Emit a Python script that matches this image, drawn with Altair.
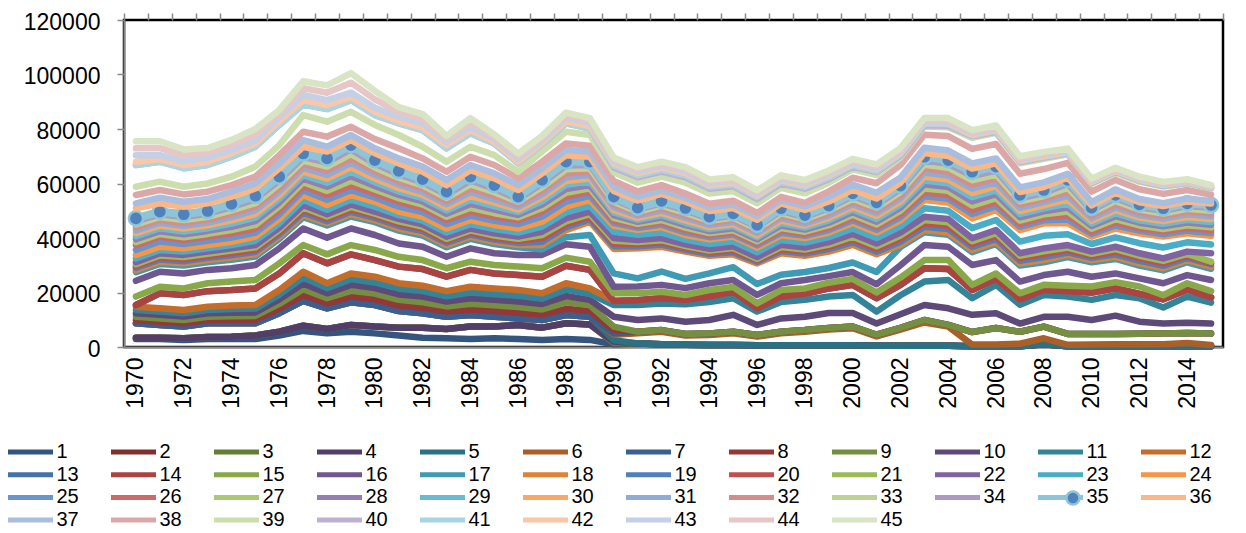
import altair as alt
import pandas as pd

YEARS = list(range(1970, 2016))
SERIES = [f"{i:02d}" for i in range(1, 46)]
COLORS = [
    "#34557F", "#7E302E", "#657E36", "#513F68", "#2C7083", "#A85F28",
    "#3A6091", "#933836", "#748F41", "#5E4A78", "#348499", "#C46C2A",
    "#4472AA", "#AB4341", "#88A84A", "#6F578F", "#3F9AB3", "#DF8136",
    "#4F81BD", "#C0504D", "#9BBB59", "#8064A2", "#4BACC6", "#F79646",
    "#6A94CB", "#CB6B68", "#ACC874", "#957EB4", "#68BCD2", "#F9A866",
    "#8FACD6", "#D38E8C", "#BDD396", "#AB9AC3", "#8DC4D7", "#FAB888",
    "#A9BEDE", "#DCA8A7", "#CCDDAE", "#BEB2D2", "#A9D5E3", "#FBC7A6",
    "#C4D0E6", "#E6C6C6", "#D8E4C4",
]

# values (thousands) of series 1..45 for each year
Y1970 = [2.9, 3.4,3.4,3.4, 8.7,8.7,8.7, 9.9,11.1,12.4,13.6, 14.8, 15.4,15.4, 18.5, 24.3, 27.5, 28.3, 29.0,29.7,30.4, 31.1, 32.5, 33.8, 35.6, 37.4, 38.5,39.6,40.7,41.8,42.8,43.9,45.0,46.1, 47.2, 50.9, 52.7, 55.8, 58.8, 66.8,66.8, 68.0, 70.4, 72.9, 75.5]
Y1971 = [2.9, 3.4,3.4,3.4, 8.1,8.1,8.1, 9.3,10.5,11.8,13.0, 14.2, 19.7,19.7, 22.1, 27.6, 30.5, 31.3, 32.1,32.9,33.6, 34.4, 35.6, 36.8, 38.7, 40.5, 41.5,42.5,43.6,44.6,45.6,46.6,47.7,48.7, 49.7, 52.7, 54.8, 57.6, 60.7, 68.0,68.0, 69.0, 70.4, 73.0, 75.5]
Y1972 = [2.6, 3.2,3.2,3.2, 7.5,7.5,7.5, 8.7,9.9,11.2,12.4, 13.6, 19.1,19.1, 21.5, 27.0, 29.9, 30.7, 31.5,32.2,33.0, 33.8, 35.0, 36.2, 37.8, 39.3, 40.3,41.4,42.4,43.5,44.5,45.6,46.6,47.7, 48.7, 51.5, 53.3, 56.0, 58.8, 65.6,65.6, 66.8, 68.2, 70.4, 72.5]
Y1973 = [2.9, 3.7,3.7,3.7, 8.7,8.7,8.7, 9.9,11.1,12.4,13.6, 14.8, 20.5,20.5, 23.4, 28.3, 31.1, 31.9, 32.7,33.5,34.2, 35.0, 36.2, 37.4, 39.0, 40.5, 41.5,42.6,43.6,44.7,45.7,46.8,47.8,48.9, 49.9, 52.7, 54.3, 57.0, 60.0, 66.8,66.8, 68.0, 69.5, 71.3, 73.0]
Y1974 = [2.9, 3.8,3.8,3.8, 8.7,8.7,8.7, 10.0,11.3,12.6,13.9, 15.2, 20.9,20.9, 24.0, 28.9, 32.0, 32.8, 33.7,34.5,35.4, 36.2, 37.4, 38.6, 40.2, 41.7, 42.9,44.1,45.3,46.5,47.7,48.9,50.1,51.3, 52.5, 55.2, 57.0, 59.4, 62.5, 69.8,69.8, 71.1, 72.3, 74.2, 76.0]
Y1975 = [2.9, 4.2,4.2,4.2, 8.7,8.7,8.7, 10.0,11.4,12.7,14.1, 15.4, 21.5,21.5, 24.6, 30.1, 33.2, 34.0, 34.9,35.7,36.6, 37.4, 39.0, 40.5, 42.0, 43.5, 44.8,46.2,47.5,48.8,50.2,51.5,52.8,54.2, 55.5, 58.2, 60.0, 62.5, 66.2, 73.5,73.5, 74.7, 75.9, 78.0, 80.0]
Y1976 = [4.2, 5.6,5.6,5.6, 12.4,12.4,12.4, 14.1,15.8,17.5,19.2, 20.9, 27.0,27.0, 30.7, 36.2, 39.7, 40.5, 41.3,42.2,43.0, 43.8, 45.4, 47.0, 48.7, 50.3, 51.7,53.0,54.4,55.7,57.1,58.4,59.8,61.1, 62.5, 65.6, 67.4, 70.4, 74.1, 81.5,81.5, 82.9, 84.5, 85.8, 87.0]
Y1977 = [5.9, 7.8,7.8,7.8, 16.9,16.9,16.9, 19.0,21.2,23.3,25.5, 27.6, 34.4,34.4, 37.4, 43.5, 47.6, 48.4, 49.3,50.3,51.2, 52.1, 54.0, 55.8, 57.5, 59.2, 60.5,61.8,63.1,64.4,65.8,67.1,68.4,69.7, 71.0, 73.5, 75.9, 79.0, 85.1, 89.0,89.0, 90.6, 92.5, 95.0, 97.5]
Y1978 = [5.0, 6.6,6.6,6.6, 14.2,14.2,14.2, 16.0,17.9,19.7,21.6, 23.4, 30.7,30.7, 34.0, 40.1, 44.6, 45.4, 46.2,47.1,47.9, 48.7, 50.4, 52.1, 54.0, 55.8, 57.3,58.8,60.3,61.8,63.2,64.7,66.2,67.7, 69.2, 71.7, 73.5, 77.2, 82.7, 87.3,87.3, 88.8, 90.6, 93.3, 96.0]
Y1979 = [5.6, 8.1,8.1,8.1, 16.4,16.4,16.4, 18.5,20.6,22.8,24.9, 27.0, 34.0,34.0, 37.4, 43.5, 47.9, 48.7, 49.6,50.5,51.4, 52.3, 54.1, 55.8, 57.6, 59.4, 61.0,62.7,64.3,65.9,67.6,69.2,70.8,72.5, 74.1, 75.9, 77.8, 80.8, 86.3, 90.6,90.6, 91.8, 93.4, 97.0, 100.5]
Y1980 = [5.0, 7.5,7.5,7.5, 15.4,15.4,15.4, 17.5,19.6,21.6,23.7, 25.8, 31.9,31.9, 35.6, 41.1, 45.8, 46.6, 47.4,48.2,48.9, 49.7, 51.5, 53.3, 54.9, 56.4, 57.8,59.1,60.5,61.8,63.2,64.5,65.9,67.2, 68.6, 71.1, 72.9, 76.3, 81.5, 85.1,85.1, 86.3, 87.8, 90.9, 94.0]
Y1981 = [4.2, 7.1,7.1,7.1, 13.2,13.2,13.2, 15.2,17.3,19.3,21.4, 23.4, 29.5,29.5, 33.1, 38.0, 42.7, 43.5, 44.4,45.3,46.1, 47.0, 48.4, 49.7, 51.5, 53.3, 54.6,55.8,57.1,58.3,59.6,60.8,62.1,63.3, 64.6, 67.4, 69.2, 72.9, 77.8, 82.1,82.1, 82.9, 84.5, 86.3, 88.0]
Y1982 = [3.4, 7.1,7.1,7.1, 12.4,12.4,12.4, 14.4,16.4,18.5,20.5, 22.5, 28.6,28.6, 31.9, 36.8, 40.9, 41.7, 42.5,43.4,44.2, 45.0, 46.4, 47.8, 49.5, 51.1, 52.3,53.4,54.6,55.8,56.9,58.1,59.3,60.4, 61.6, 64.3, 66.2, 69.2, 73.5, 79.6,79.6, 80.5, 82.1, 83.8, 85.5]
Y1983 = [3.2, 6.6,6.6,6.6, 11.1,11.1,11.1, 13.0,14.9,16.7,18.6, 20.5, 25.8,25.8, 28.9, 33.1, 36.6, 37.4, 38.2,39.0,39.7, 40.5, 42.0, 43.5, 45.1, 46.6, 47.8,48.9,50.1,51.2,52.4,53.5,54.7,55.8, 57.0, 59.4, 61.3, 64.3, 68.0, 72.9,72.9, 74.1, 75.3, 76.4, 77.5]
Y1984 = [2.9, 7.5,7.5,7.5, 11.7,11.7,11.7, 13.8,15.9,17.9,20.0, 22.1, 28.3,28.3, 31.3, 36.2, 39.7, 40.5, 41.3,42.0,42.8, 43.5, 45.1, 46.6, 48.2, 49.7, 51.1,52.5,54.0,55.4,56.8,58.2,59.7,61.1, 62.5, 64.9, 66.8, 69.8, 73.5, 78.4,78.4, 79.6, 80.8, 82.4, 84.0]
Y1985 = [3.2, 7.5,7.5,7.5, 11.1,11.1,11.1, 13.2,15.3,17.3,19.4, 21.5, 27.0,27.0, 30.1, 34.4, 37.8, 38.6, 39.4,40.2,40.9, 41.7, 43.3, 44.8, 46.3, 47.8, 49.1,50.4,51.7,53.0,54.2,55.5,56.8,58.1, 59.4, 61.9, 63.7, 66.8, 70.4, 74.7,74.7, 75.3, 76.3, 77.2, 78.0]
Y1986 = [2.9, 8.1,8.1,8.1, 10.5,10.5,10.5, 12.6,14.7,16.7,18.8, 20.9, 26.4,26.4, 29.5, 33.8, 36.6, 37.4, 38.2,39.0,39.7, 40.5, 42.0, 43.5, 45.1, 46.6, 47.6,48.5,49.5,50.4,51.4,52.3,53.3,54.2, 55.2, 57.6, 59.4, 61.9, 64.3, 67.4,67.4, 68.0, 69.0, 70.0, 71.0]
Y1987 = [2.6, 7.1,7.1,7.1, 9.9,9.9,9.9, 11.9,13.8,15.8,17.7, 19.7, 25.8,25.8, 28.9, 33.8, 35.8, 37.4, 38.6,39.9,41.1, 42.3, 44.2, 46.0, 47.9, 49.7, 51.0,52.3,53.6,54.9,56.1,57.4,58.7,60.0, 61.3, 63.7, 65.6, 68.0, 71.7, 74.4,74.4, 75.0, 75.9, 76.7, 77.5]
Y1988 = [2.9, 8.7,8.7,8.7, 11.7,11.7,11.7, 14.0,16.4,18.7,21.1, 23.4, 29.8,29.8, 32.8, 37.7, 40.3, 42.9, 44.0,45.1,46.1, 47.2, 49.4, 51.5, 53.4, 55.2, 56.6,58.0,59.5,60.9,62.3,63.7,65.2,66.6, 68.0, 70.4, 72.3, 74.7, 79.0, 82.1,82.1, 82.9, 84.1, 85.1, 86.0]
Y1989 = [2.6, 8.3,8.3,8.3, 11.1,11.1,11.1, 13.2,15.3,17.3,19.4, 21.5, 28.3,28.3, 31.3, 36.8, 41.1, 46.0, 46.9,47.9,48.8, 49.7, 51.8, 53.9, 55.5, 57.0, 58.2,59.4,60.7,61.9,63.1,64.3,65.6,66.8, 68.0, 69.8, 71.7, 73.9, 77.8, 80.2,80.2, 81.1, 82.4, 83.2, 84.0]
Y1990 = [1.0, 1.5,1.5,2.0, 2.5, 4.5, 5.0, 6.2, 7.5, 11.1, 15.4, 16.9,16.9,16.9, 19.7, 22.1, 27.0, 36.0, 37.0,38.0,39.0, 40.0, 42.3, 44.5, 45.5,46.4,47.4,48.4,49.4,50.3,51.3,52.3,53.3,54.2, 55.2, 57.3, 58.8, 60.9, 64.1, 65.9, 66.6, 67.4, 68.1, 68.8, 69.5]
Y1991 = [1.3,1.3,1.3,1.3,1.3, 5.0, 5.6,5.6,5.6, 9.9, 15.4, 17.2,17.2,17.2, 19.7, 22.2, 25.2, 36.2, 37.0,37.8,38.5, 39.3, 41.2, 43.0, 43.7,44.5,45.2,45.9,46.7,47.4,48.2,48.9,49.6,50.4, 51.1, 53.8, 55.1, 57.1, 60.3, 62.3, 63.0, 63.8, 64.5, 65.3, 66.0]
Y1992 = [1.0,1.0,1.0,1.0,1.0, 5.6, 6.2,6.2,6.2, 10.5, 16.0, 17.9,17.9,17.9, 20.3, 22.8, 27.7, 36.8, 37.6,38.4,39.2, 40.0, 42.0, 44.0, 44.9,45.7,46.6,47.5,48.4,49.2,50.1,51.0,51.9,52.7, 53.6, 56.2, 57.5, 59.4, 62.5, 64.4, 65.1, 65.8, 66.6, 67.3, 68.0]
Y1993 = [0.8,0.8,0.8,0.8,0.8, 4.2, 4.8,4.8,4.8, 9.3, 15.7, 17.3,17.3,17.3, 19.1, 21.6, 25.0, 35.0, 35.7,36.4,37.0, 37.7, 39.4, 41.1, 42.0,42.9,43.8,44.7,45.6,46.5,47.4,48.3,49.2,50.1, 51.0, 53.3, 54.8, 56.3, 60.3, 62.3, 63.0, 63.8, 64.5, 65.3, 66.0]
Y1994 = [0.7,0.7,0.7,0.7,0.7, 4.4, 5.0,5.0,5.0, 9.9, 16.5, 18.5,18.5,18.5, 20.9, 23.4, 27.0, 33.5, 34.1,34.8,35.4, 36.0, 37.8, 39.5, 40.3,41.0,41.8,42.5,43.3,44.0,44.8,45.5,46.3,47.0, 47.8, 49.9, 51.2, 52.6, 56.3, 58.1, 58.8, 59.4, 60.1, 60.8, 61.5]
Y1995 = [0.7,0.7,0.7,0.7,0.7, 5.0, 5.6,5.6,5.6, 11.8, 17.9, 20.3,20.3,20.3, 22.0, 24.6, 29.3, 34.0, 34.8,35.5,36.3, 37.0, 38.8, 40.5, 41.3,42.0,42.8,43.6,44.4,45.1,45.9,46.7,47.5,48.2, 49.0, 51.0, 52.3, 53.7, 57.2, 59.0, 59.6, 60.3, 61.0, 61.6, 62.3]
Y1996 = [0.6,0.6,0.6,0.6,0.6, 3.8, 4.4,4.4,4.4, 8.1, 13.0, 14.2,14.2,14.2, 16.0, 19.1, 23.1, 30.7, 31.3,31.9,32.4, 33.0, 34.8, 36.5, 37.3,38.0,38.8,39.5,40.3,41.0,41.8,42.5,43.3,44.0, 44.8, 46.7, 48.0, 49.2, 52.7, 54.3, 55.0, 55.6, 56.2, 56.9, 57.5]
Y1997 = [0.6,0.6,0.6,0.6,0.6, 5.0, 5.6,5.6,5.6, 10.5, 16.5, 18.5,18.5,18.5, 20.9, 23.4, 26.5, 34.4, 35.2,35.9,36.7, 37.5, 39.3, 41.0, 41.9,42.8,43.7,44.6,45.5,46.4,47.3,48.2,49.1,50.0, 50.9, 52.7, 53.9, 55.1, 58.4, 60.0, 60.6, 61.2, 61.8, 62.4, 63.0]
Y1998 = [0.6,0.6,0.6,0.6,0.6, 5.6, 6.2,6.2,6.2, 11.1, 17.3, 19.5,19.5,19.5, 21.5, 24.6, 27.5, 33.5, 34.3,35.0,35.8, 36.5, 38.3, 40.0, 40.8,41.5,42.3,43.1,43.8,44.6,45.3,46.1,46.9,47.6, 48.4, 50.3, 51.6, 52.9, 56.4, 58.1, 58.7, 59.4, 60.0, 60.7, 61.3]
Y1999 = [0.6,0.6,0.6,0.6,0.6, 6.4, 7.0,7.0,7.0, 12.5, 18.5, 21.5,21.5,21.5, 23.6, 26.0, 29.0, 35.0, 35.9,36.8,37.6, 38.5, 40.3, 42.0, 42.9,43.8,44.7,45.6,46.5,47.4,48.3,49.2,50.1,51.0, 51.9, 53.4, 55.1, 57.1, 60.3, 61.6, 62.2, 62.9, 63.5, 64.2, 64.8]
Y2000 = [0.6,0.6,0.6,0.6,0.6, 6.9, 7.5,7.5,7.5, 12.5, 19.1, 22.8,22.8,22.8, 25.0, 27.5, 31.0, 37.5, 38.5,39.5,40.5, 41.5, 43.5, 45.5, 46.5,47.5,48.5,49.5,50.5,51.4,52.4,53.4,54.4,55.4, 56.4, 57.7, 59.6, 62.1, 65.2, 66.2, 66.7, 67.2, 67.7, 68.4, 69.0]
Y2001 = [0.5,0.5,0.5,0.5,0.5, 3.9, 4.5,4.5,4.5, 8.6, 13.0, 17.9,17.9,17.9, 20.0, 23.0, 27.5, 34.0, 35.0,36.0,37.0, 38.0, 40.0, 42.0, 43.0,44.0,45.0,46.0,47.0,48.1,49.1,50.1,51.1,52.1, 53.1, 54.5, 56.6, 60.1, 63.1, 64.2, 64.6, 65.2, 65.6, 66.3, 67.0]
Y2002 = [0.5,0.5,0.5,0.5,0.5, 6.4, 7.0,7.0,7.0, 12.0, 19.0, 22.8,22.8,22.8, 25.5, 30.0, 36.7, 37.5, 38.6,39.8,40.9, 42.0, 44.3, 46.5, 47.7,48.8,50.0,51.1,52.3,53.4,54.6,55.7,56.9,58.0, 59.2, 60.3, 62.2, 66.8, 69.6, 70.2, 70.7, 71.2, 71.6, 72.3, 73.0]
Y2003 = [0.5,0.5,0.5,0.5,0.5, 9.0, 9.9,9.9,9.9, 15.4, 24.0, 28.9,28.9,28.9, 31.9, 37.4, 42.1, 42.9, 44.1,45.4,46.6, 47.8, 50.9, 53.9, 55.3,56.8,58.2,59.7,61.1,62.6,64.0,65.5,66.9,68.4, 69.8, 71.2, 73.1, 77.9, 80.9, 81.4, 81.9, 82.3, 82.7, 83.3, 84.0]
Y2004 = [0.5,0.5,0.5,0.5,0.5, 7.5, 8.1,8.1,8.1, 14.2, 24.6, 28.6,28.6,28.6, 31.9, 36.8, 41.2, 42.0, 43.3,44.5,45.8, 47.0, 50.0, 53.0, 54.4,55.8,57.3,58.7,60.1,61.5,62.9,64.3,65.8,67.2, 68.6, 70.1, 72.1, 77.4, 80.6, 81.2, 81.7, 82.2, 82.6, 83.2, 84.0]
Y2005 = [0.3,0.3,0.3,0.3,0.3, 0.9, 5.5,5.5,5.5, 11.8, 17.9, 20.9,20.9,20.9, 22.8, 30.1, 34.8, 35.6, 36.7,37.8,38.8, 39.9, 43.6, 47.2, 48.8,50.3,51.9,53.4,55.0,56.5,58.1,59.6,61.2,62.7, 64.3, 65.5, 67.4, 72.7, 76.8, 77.3, 77.6, 77.9, 78.4, 79.0, 79.6]
Y2006 = [0.3,0.3,0.3,0.3,0.3, 0.9, 7.0,7.0,7.0, 12.4, 22.8, 25.1,25.1,25.1, 27.0, 31.9, 37.8, 38.6, 39.7,40.8,41.8, 42.9, 46.6, 50.3, 51.7,53.2,54.6,56.1,57.5,59.0,60.4,61.9,63.3,64.7, 66.2, 67.4, 69.2, 74.5, 78.6, 79.0, 79.3, 79.6, 80.1, 80.7, 81.3]
Y2007 = [0.3,0.3,0.3,0.3,0.3, 1.2, 5.6,5.6,5.6, 8.6, 15.5, 17.5,17.5,17.5, 19.7, 24.0, 29.9, 30.7, 31.6,32.6,33.5, 34.4, 38.7, 42.9, 44.1,45.2,46.4,47.6,48.8,49.9,51.1,52.3,53.5,54.6, 55.8, 56.9, 58.6, 63.6, 67.4, 67.9, 68.2, 68.4, 68.9, 69.4, 70.0]
Y2008 = [1.0,1.0,1.0,1.0,1.0, 3.2, 7.5,7.5,7.5, 11.1, 19.1, 20.9,20.9,20.9, 22.8, 26.4, 31.1, 31.9, 33.0,34.1,35.1, 36.2, 40.8, 45.4, 46.5,47.6,48.7,49.8,50.9,52.0,53.2,54.3,55.4,56.5, 57.6, 58.7, 60.4, 65.3, 69.1, 69.5, 69.8, 70.1, 70.5, 71.0, 71.6]
Y2009 = [0.3,0.3,0.3,0.3,0.3, 0.8, 4.8,4.8,4.8, 11.1, 18.5, 20.5,20.5,20.5, 22.5, 27.6, 33.0, 33.8, 34.7,35.6,36.5, 37.4, 41.4, 45.4, 46.8,48.3,49.7,51.2,52.6,54.1,55.5,57.0,58.4,59.9, 61.3, 62.2, 63.6, 67.6, 70.7, 71.1, 71.3, 71.5, 71.9, 72.3, 72.8]
Y2010 = [0.3,0.3,0.3,0.3,0.3, 0.9, 4.8,4.8,4.8, 9.9, 17.3, 20.0,20.0,20.0, 22.2, 25.8, 31.1, 31.9, 32.7,33.5,34.2, 35.0, 37.8, 40.5, 41.5,42.4,43.4,44.4,45.3,46.3,47.2,48.2,49.2,50.1, 51.1, 52.0, 53.2, 57.0, 59.9, 60.2, 60.4, 60.6, 60.9, 61.4, 61.8]
Y2011 = [0.3,0.3,0.3,0.3,0.3, 1.0, 4.8,4.8,4.8, 11.5, 19.1, 21.5,21.5,21.5, 23.8, 27.0, 32.3, 33.1, 34.0,35.0,35.9, 36.8, 40.2, 43.5, 44.6,45.7,46.9,48.0,49.1,50.2,51.3,52.4,53.6,54.7, 55.8, 56.6, 57.8, 61.3, 64.0, 64.3, 64.5, 64.7, 65.0, 65.4, 65.8]
Y2012 = [0.3,0.3,0.3,0.3,0.3, 1.0, 4.9,4.9,4.9, 9.3, 17.9, 19.5,19.5,19.5, 22.2, 25.2, 29.9, 30.7, 31.6,32.6,33.5, 34.4, 38.1, 41.7, 42.7,43.6,44.6,45.6,46.5,47.5,48.4,49.4,50.4,51.3, 52.3, 53.1, 54.3, 57.9, 60.7, 61.0, 61.2, 61.4, 61.7, 62.1, 62.5]
Y2013 = [0.3,0.3,0.3,0.3,0.3, 1.0, 5.0,5.0,5.0, 8.6, 14.5, 17.5,17.5,17.5, 19.0, 23.4, 28.1, 28.9, 29.8,30.7,31.6, 32.5, 36.5, 40.5, 41.4,42.4,43.3,44.3,45.2,46.2,47.1,48.1,49.0,50.0, 50.9, 51.7, 52.8, 56.2, 58.9, 59.1, 59.3, 59.5, 59.8, 60.2, 60.6]
Y2014 = [0.3,0.3,0.3,0.3,0.3, 1.5, 5.1,5.1,5.1, 8.9, 18.5, 21.0,21.0,21.0, 23.4, 26.4, 31.1, 31.9, 32.7,33.5,34.2, 35.0, 38.4, 41.7, 42.7,43.7,44.7,45.7,46.7,47.7,48.7,49.7,50.7,51.7, 52.7, 53.4, 54.5, 57.6, 60.0, 60.3, 60.4, 60.6, 60.9, 61.2, 61.6]
Y2015 = [0.3,0.3,0.3,0.3,0.3, 0.7, 5.0,5.0,5.0, 8.6, 16.3, 18.2,18.2,18.2, 20.5, 24.6, 28.7, 29.5, 30.3,30.7,31.3, 34.4, 37.6, 40.8, 41.8,42.9,43.9,44.9,45.9,47.0,48.0,49.0,50.0,51.1, 52.1, 52.7, 53.6, 55.9, 58.1, 58.3, 58.5, 58.6, 58.8, 59.1, 59.4]

COLUMNS = [Y1970, Y1971, Y1972, Y1973, Y1974, Y1975, Y1976, Y1977, Y1978, Y1979,
           Y1980, Y1981, Y1982, Y1983, Y1984, Y1985, Y1986, Y1987, Y1988, Y1989,
           Y1990, Y1991, Y1992, Y1993, Y1994, Y1995, Y1996, Y1997, Y1998, Y1999,
           Y2000, Y2001, Y2002, Y2003, Y2004, Y2005, Y2006, Y2007, Y2008, Y2009,
           Y2010, Y2011, Y2012, Y2013, Y2014, Y2015]

LABEL_YEARS = list(range(1970, 2015, 2))
BOUNDARIES = [y + 0.5 for y in range(1969, 2016)]

rows = []
for year, col in zip(YEARS, COLUMNS):
    assert len(col) == 45, year
    for name, v in zip(SERIES, col):
        rows.append({"year": year, "series": name, "value": v * 1000})
df = pd.DataFrame(rows).sort_values(["series", "year"]).reset_index(drop=True)

FONT = "Liberation Sans"
GRAY = "#898989"

xaxis_labels = alt.Axis(
    values=LABEL_YEARS, format="d", title=None, grid=False, ticks=False,
    labelAngle=-90, labelOverlap=False, labelFlush=False,
    labelFont=FONT, labelFontSize=23, labelColor="black", labelPadding=10,
    domainColor=GRAY, domainWidth=2,
)
xaxis_ticks = alt.Axis(
    values=BOUNDARIES, title=None, grid=False, labels=False, domain=False,
    tickSize=7, tickWidth=1.5, tickColor=GRAY,
)
yaxis = alt.Axis(
    values=[0, 20000, 40000, 60000, 80000, 100000, 120000], format="d",
    title=None, grid=False, labelFont=FONT, labelFontSize=23, labelColor="black",
    labelPadding=17, labelOffset=2, tickSize=7, tickWidth=1.5, tickColor=GRAY,
    domainColor=GRAY, domainWidth=2,
)

xs = alt.Scale(domain=[1969.5, 2015.5], nice=False, zero=False)
ys = alt.Scale(domain=[0, 120000], nice=False)

legend = alt.Legend(
    orient="none", legendX=-121, legendY=422, columns=12, direction="horizontal",
    title=None, symbolType="M-4.5,0H4.5", symbolSize=100, symbolStrokeWidth=5,
    symbolOffset=17.5, labelOffset=16,
    labelFont=FONT, labelFontSize=20, labelColor="black",
    columnPadding=22, rowPadding=2.7, gridAlign="all", padding=0,
    symbolLimit=50, labelExpr="'' + toNumber(datum.label)",
)
cs = alt.Scale(domain=SERIES, range=COLORS)

Y = alt.Y("value:Q", scale=ys, axis=yaxis)
C = alt.Color("series:N", scale=cs, legend=legend)

base = alt.Chart(df)
line_kw = dict(strokeCap="round", strokeJoin="round")

low = base.transform_filter("datum.series < '35'").mark_line(strokeWidth=6.5, **line_kw).encode(
    alt.X("year:Q", scale=xs, axis=xaxis_labels), Y, C)
l35 = base.transform_filter("datum.series == '35'").mark_line(strokeWidth=8, **line_kw).encode(
    alt.X("year:Q", scale=xs, axis=None), Y, C)
dots = (
    base.transform_filter("datum.series == '35'")
    .transform_calculate(mk="'35'")
    .mark_circle(size=200, opacity=1, stroke="#8DC4D7", strokeWidth=2.5)
    .encode(
        alt.X("year:Q", scale=xs, axis=None), Y,
        fill=alt.Fill(
            "mk:N",
            scale=alt.Scale(domain=["35"], range=["#4F81BD"]),
            legend=alt.Legend(
                orient="none", legendX=941, legendY=470, title=None,
                labelExpr="''", symbolType="circle", symbolSize=170,
                symbolStrokeColor="#8DC4D7", symbolStrokeWidth=2.5, padding=0,
            ),
        ),
    )
)
high = base.transform_filter("datum.series > '35'").mark_line(strokeWidth=6.5, **line_kw).encode(
    alt.X("year:Q", scale=xs, axis=xaxis_ticks), Y, C)

chart = (
    alt.layer(low, l35, dots, high)
    .resolve_axis(x="independent")
    .properties(
        width=1099, height=327,
        padding={"left": 116, "top": 12, "right": 12, "bottom": 183},
        autosize=alt.AutoSizeParams(type="none"),
        background="white",
    )
    .configure_view(stroke="black", strokeWidth=2.5)
)

chart.save("out.html", embed_options={"renderer": "svg", "actions": False})
